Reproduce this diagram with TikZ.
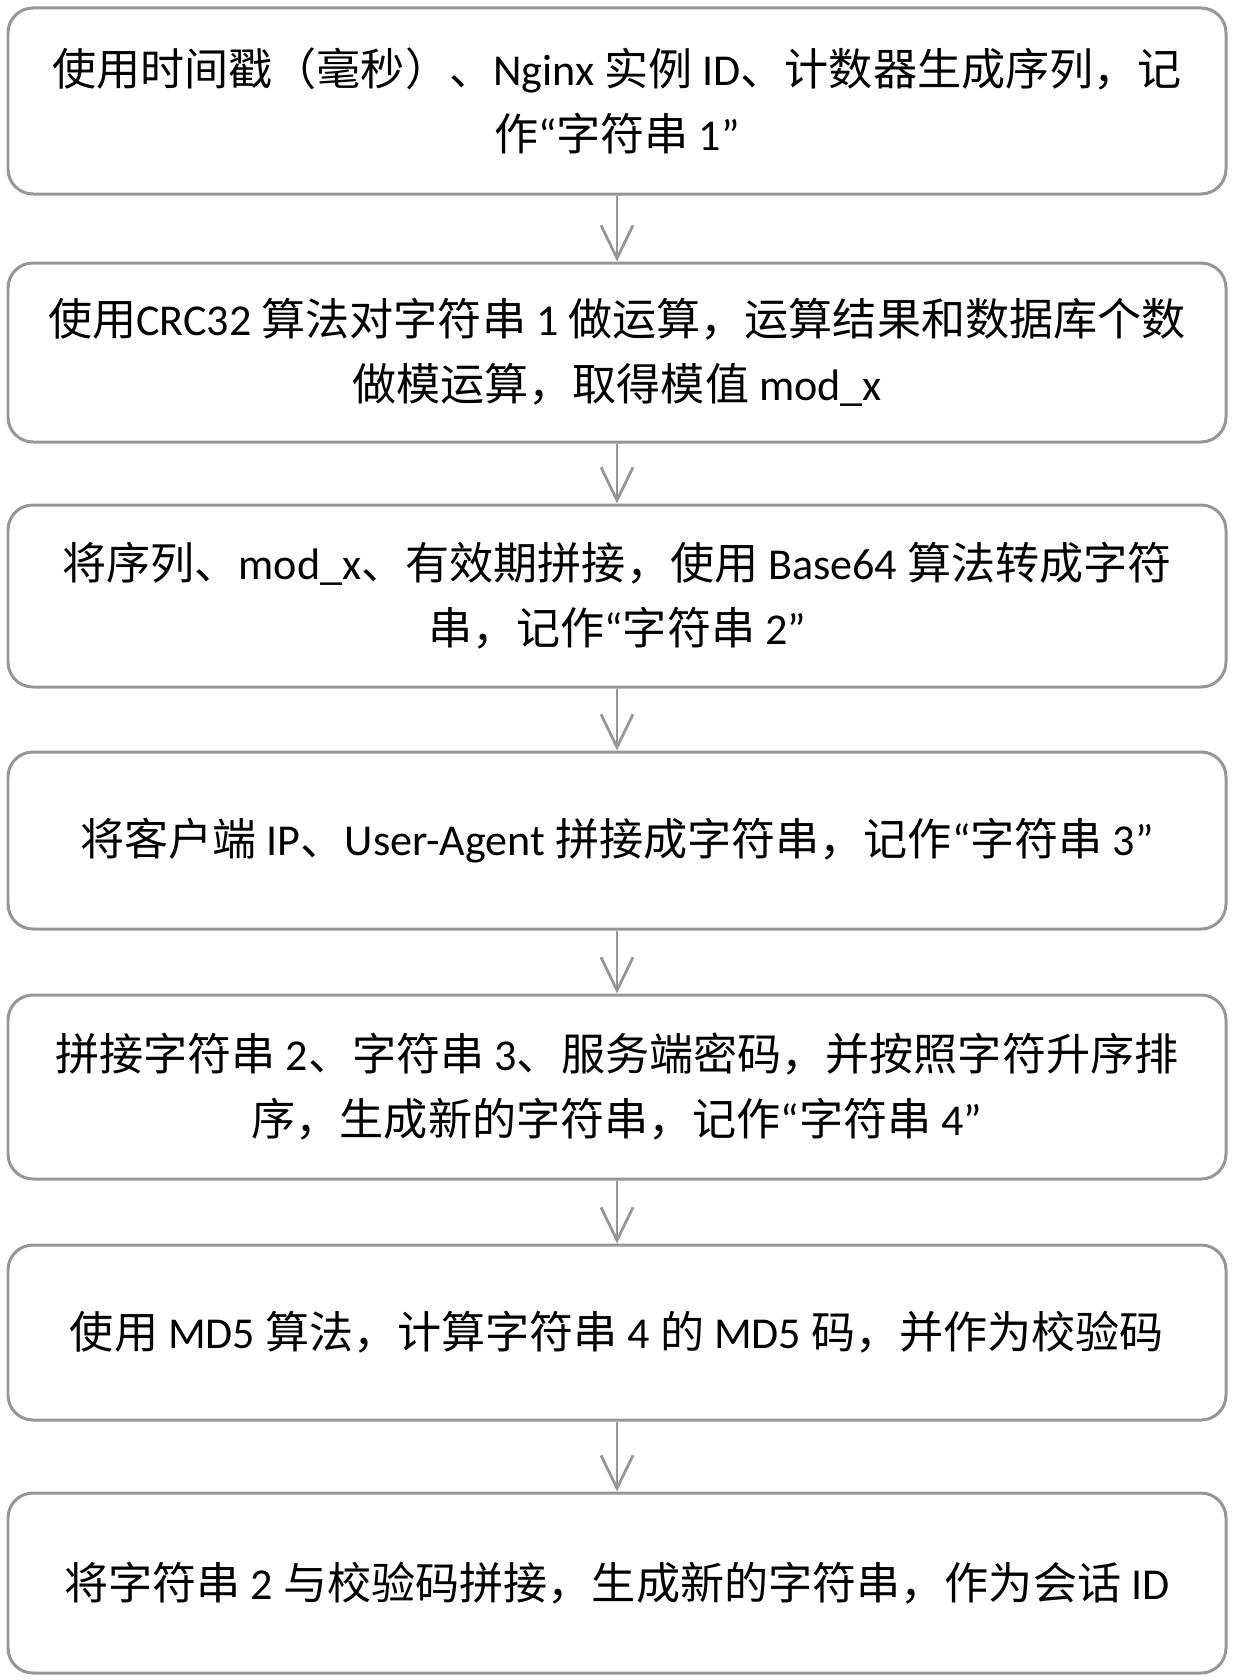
\documentclass[tikz,border=0pt]{standalone}
\usepackage{fontspec}
\setmainfont{Noto Sans CJK SC}
\newfontfamily\latfont{Carlito}
\newcommand{\entxt}[1]{{\latfont #1}}
\usepackage{xcolor}
\usetikzlibrary{arrows.meta,positioning}
\definecolor{boxgray}{RGB}{150,150,150}
\tikzset{
    % Step style (rounded rectangle)
    stepbox/.style = {draw=boxgray, line width=0.03cm, rounded corners=0.25cm, minimum width=12.18cm, minimum height=1.8cm, align=center, inner sep=0},
    % Flow connection style (gray arrows)
    flowarr/.style = {draw=boxgray, line width=0.028cm, -{Straight Barb[length=0.33cm,width=0.32cm]}},
    % General text style
    steptext/.style = {font=\fontsize{12.55pt}{18.5pt}\selectfont}
  }

\begin{document}
\begin{tikzpicture}[steptext]
\useasboundingbox (0,0) rectangle (12.35,-16.8);

\node [stepbox, minimum height=1.86cm] (S1) at (6.17,-1.01) {使用时间戳（毫秒）、\entxt{Nginx} 实例 \entxt{ID}、计数器生成序列，记\\作\entxt{“}字符串 \entxt{1”}};
\node [stepbox, minimum height=1.79cm] (S2) at (6.17,-3.525) {使用\entxt{CRC32} 算法对字符串 \entxt{1} 做运算，运算结果和数据库个数\\做模运算，取得模值 \entxt{mod\_x}};
\node [stepbox, minimum height=1.82cm] (S3) at (6.17,-5.96) {将序列、\entxt{mod\_x}、有效期拼接，使用 \entxt{Base64} 算法转成字符\\串，记作\entxt{“}字符串 \entxt{2”}};
\node [stepbox, minimum height=1.77cm] (S4) at (6.17,-8.405) {将客户端 \entxt{IP}、\entxt{User-Agent} 拼接成字符串，记作\entxt{“}字符串 \entxt{3”}};
\node [stepbox, minimum height=1.84cm] (S5) at (6.17,-10.87) {拼接字符串 \entxt{2}、字符串 \entxt{3}、服务端密码，并按照字符升序排\\序，生成新的字符串，记作\entxt{“}字符串 \entxt{4”}};
\node [stepbox, minimum height=1.75cm] (S6) at (6.17,-13.325) {使用 \entxt{MD5} 算法，计算字符串 \entxt{4} 的 \entxt{MD5} 码，并作为校验码};
\node [stepbox, minimum height=1.80cm] (S7) at (6.17,-15.83) {将字符串 \entxt{2} 与校验码拼接，生成新的字符串，作为会话 \entxt{ID}};

\foreach \a/\b in {S1/S2,S2/S3,S3/S4,S4/S5,S5/S6,S6/S7}
  \draw [flowarr] (\a) -- (\b);

\end{tikzpicture}
\end{document}
